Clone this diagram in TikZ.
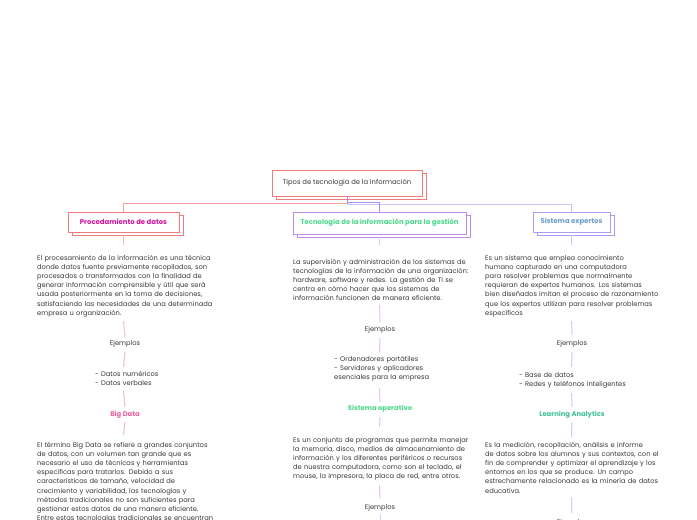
\documentclass[tikz,border=0pt]{standalone}
\usepackage{fontspec}
\setmainfont{Poppins}
\usetikzlibrary{shadows}
\definecolor{cRedB}{HTML}{F07B7B}
\definecolor{cRedL}{HTML}{F4A0A0}
\definecolor{cRedL2}{HTML}{F8BCBC}
\definecolor{cMag}{HTML}{D0149A}
\definecolor{cPurB}{HTML}{C08AE8}
\definecolor{cPurL}{HTML}{A98AF0}
\definecolor{cPurL2}{HTML}{E6C3F3}
\definecolor{cGreen}{HTML}{4CD98A}
\definecolor{cLavB}{HTML}{A79DF3}
\definecolor{cLavL}{HTML}{C9C2FA}
\definecolor{cLavL2}{HTML}{CFC8F8}
\definecolor{cBlueT}{HTML}{6C9DCB}
\definecolor{cPink}{HTML}{F0619F}
\definecolor{cTeal}{HTML}{3FBF95}
\definecolor{cTxt}{HTML}{3A3A3A}
\tikzset{
  every node/.style={font=\fontsize{6.7}{9.2}\selectfont, text=cTxt, inner sep=0pt},
  headbox/.style={draw=#1, line width=0.9pt, fill=white,
    general shadow={draw=#1, line width=0.9pt, fill=white, shadow xshift=4pt, shadow yshift=-3pt}},
  head/.style={font=\fontsize{6.9}{9.2}\selectfont\bfseries},
  para/.style={anchor=base west, align=left, text width=220pt},
  lst/.style={anchor=base west, align=left, text width=150pt},
  one/.style={anchor=base},
  sub/.style={anchor=base, font=\fontsize{6.8}{9.2}\selectfont\bfseries},
  conn/.style={line width=1pt},
}
\begin{document}
\begin{tikzpicture}[x=1pt, y=-1pt]
\fill[white] (0,0) rectangle (697,520);
\useasboundingbox (0,0) rectangle (697,520);

% title and headers
\node[headbox=cRedB, font=\fontsize{6.8}{9.2}\selectfont, minimum width=150pt, minimum height=26pt] (t) at (347,183) {Tipos de tecnologia de la información};
\node[headbox=cRedB, head, text=cMag, minimum width=111pt, minimum height=20pt] (b1) at (123.5,222) {Procedamiento de datos};
\node[headbox=cPurB, head, text=cGreen, minimum width=173pt, minimum height=22pt] (b2) at (379.5,223) {Tecnologia de la información para la gestión};
\node[headbox=cLavB, head, text=cBlueT, minimum width=77pt, minimum height=20pt] (b3) at (571.5,222) {Sistema expertos};

% column 1
\node[para] (p1) at (37,260) {El procesamiento de la información es una técnica\\
donde datos fuente previamente recopilados, son\\
procesados o transformados con la finalidad de\\
generar información comprensible y útil que será\\
usada posteriormente en la toma de decisiones,\\
satisfaciendo las necesidades de una determinada\\
empresa u organización.};
\node[one] (ej1) at (125,345) {Ejemplos};
\node[lst] (ex1) at (95,376) {- Datos numéricos\\- Datos verbales};
\node[sub, text=cPink] (bd) at (125,416) {Big Data};
\node[para] (p2) at (37,447) {El término Big Data se refiere a grandes conjuntos\\
de datos, con un volumen tan grande que es\\
necesario el uso de técnicas y herramientas\\
específicas para tratarlos. Debido a sus\\
características de tamaño, velocidad de\\
crecimiento y variabilidad, las tecnologías y\\
métodos tradicionales no son suficientes para\\
gestionar estos datos de una manera eficiente.\\
Entre estas tecnologías tradicionales se encuentran};

% column 2
\node[para] (p3) at (293,264) {La supervisión y administración de los sistemas de\\
tecnologías de la información de una organización:\\
hardware, software y redes. La gestión de TI se\\
centra en cómo hacer que los sistemas de\\
información funcionen de manera eficiente.};
\node[one] (ej2) at (380,331) {Ejemplos};
\node[lst] (ex2) at (334,361) {- Ordenadores portátiles\\- Servidores y aplicadores\\esenciales para la empresa};
\node[sub, text=cGreen] (so) at (380,410) {Sistema operativo};
\node[para] (p4) at (293,442) {Es un conjunto de programas que permite manejar\\
la memoria, disco, medios de almacenamiento de\\
información y los diferentes periféricos o recursos\\
de nuestra computadora, como son el teclado, el\\
mouse, la impresora, la placa de red, entre otros.};
\node[one] (ej3) at (380,509) {Ejemplos};
\coordinate (end2) at (380,535);

% column 3
\node[para] (p5) at (485,260) {Es un sistema que emplea conocimiento\\
humano capturado en una computadora\\
para resolver problemas que normalmente\\
requieran de expertos humanos. Los sistemas\\
bien diseñados imitan el proceso de razonamiento\\
que los expertos utilizan para resolver problemas\\
específicos};
\node[one] (ej4) at (572,345) {Ejemplos};
\node[lst] (ex3) at (519,377) {- Base de datos\\- Redes y teléfonos inteligentes};
\node[sub, text=cTeal] (la) at (572,416) {Learning Analytics};
\node[para] (p6) at (485,447) {Es la medición, recopilación, análisis e informe\\
de datos sobre los alumnos y sus contextos, con el\\
fin de comprender y optimizar el aprendizaje y los\\
entornos en los que se produce. Un campo\\
estrechamente relacionado es la minería de datos\\
educativa.};
\node[one] (ej5) at (572,524) {Ejemplos};

% top connectors
\draw[conn, cLavL] (t.south) -- ++(0,8) -| (b3.north);
\draw[conn, cRedL] (t.south) -- ++(0,7) -| (b1.north);
\draw[conn, cPurL] (t.south) -- ++(0,6) -| (b2.north);

% column 1 connectors
\draw[conn, cRedL2] ([yshift=-3pt]b1.south) -- ([yshift=15pt]b1.south |- p1.base);
\draw[conn, cRedL2] ([yshift=-4pt]b1.south |- p1.south) -- ([yshift=8pt]ej1.base);
\draw[conn, cRedL2] ([yshift=-5pt]ej1.south) -- ([yshift=9pt]b1.south |- ex1.base);
\draw[conn, cRedL2] ([yshift=-5pt]b1.south |- ex1.south) -- ([yshift=9pt]bd.base);
\draw[conn, cRedL2] ([yshift=-4pt]bd.south) -- ([yshift=12pt]b1.south |- p2.base);

% column 2 connectors
\draw[conn, cPurL2] ([yshift=-3pt]b2.south) -- ([yshift=19pt]b2.south |- p3.base);
\draw[conn, cPurL2] ([yshift=-4pt]b2.south |- p3.south) -- ([yshift=9pt]ej2.base);
\draw[conn, cPurL2] ([yshift=-5pt]ej2.south) -- ([yshift=9pt]b2.south |- ex2.base);
\draw[conn, cPurL2] ([yshift=-7pt]b2.south |- ex2.south) -- ([yshift=8pt]so.base);
\draw[conn, cPurL2] ([yshift=-5pt]so.south) -- ([yshift=15pt]b2.south |- p4.base);
\draw[conn, cPurL2] ([yshift=-4pt]b2.south |- p4.south) -- ([yshift=11pt]ej3.base);
\draw[conn, cPurL2] ([yshift=-3pt]ej3.south) -- (end2);

% column 3 connectors
\draw[conn, cLavL2] ([yshift=-3pt]b3.south) -- ([yshift=15pt]b3.south |- p5.base);
\draw[conn, cLavL2] ([yshift=-4pt]b3.south |- p5.south) -- ([yshift=10pt]ej4.base);
\draw[conn, cLavL2] ([yshift=-5pt]ej4.south) -- ([yshift=10pt]b3.south |- ex3.base);
\draw[conn, cLavL2] ([yshift=-5pt]b3.south |- ex3.south) -- ([yshift=9pt]la.base);
\draw[conn, cLavL2] ([yshift=-4pt]la.south) -- ([yshift=10pt]b3.south |- p6.base);
\draw[conn, cLavL2] ([yshift=-4pt]b3.south |- p6.south) -- ([yshift=11pt]ej5.base);
\end{tikzpicture}
\end{document}
